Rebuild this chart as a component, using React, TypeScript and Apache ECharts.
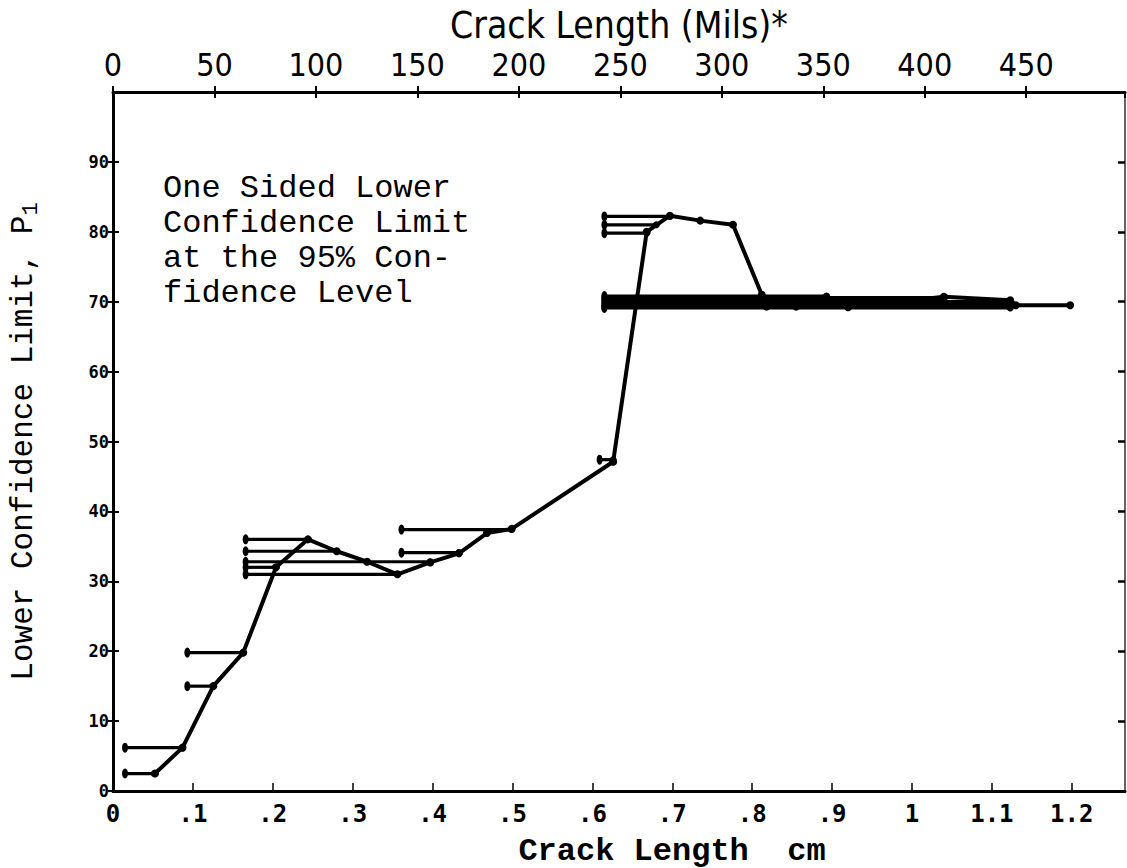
import React, { useEffect, useRef } from "react";
import * as echarts from "echarts";

// Main curve (crack length cm, lower confidence limit %)
const mainX = [0.0525, 0.087, 0.1255, 0.163, 0.204, 0.244, 0.28, 0.318, 0.356, 0.397, 0.433, 0.468, 0.499, 0.626, 0.668, 0.697, 0.735, 0.776, 0.812, 0.818, 0.855, 0.893, 0.92, 1.04, 1.123, 1.13, 1.198];
const mainY = [2.5, 6.2, 15.0, 19.8, 32.0, 36.0, 34.3, 32.8, 31.0, 32.7, 34.0, 36.9, 37.5, 47.1, 80.0, 82.3, 81.6, 81.0, 71.0, 69.3, 69.3, 70.6, 69.2, 70.7, 70.2, 69.5, 69.5];

// Horizontal interval bars
const barFrom = [0.015, 0.015, 0.093, 0.093, 0.166, 0.166, 0.166, 0.166, 0.166, 0.361, 0.361, 0.609, 0.615, 0.615, 0.615, 0.615, 0.615, 0.615, 0.615, 0.615, 0.615, 0.615, 0.615];
const barTo = [0.0525, 0.087, 0.1255, 0.163, 0.244, 0.28, 0.397, 0.204, 0.356, 0.499, 0.433, 0.626, 0.697, 0.68, 0.668, 1.123, 1.123, 1.123, 1.123, 1.04, 1.04, 0.893, 0.92];
const barY = [2.5, 6.2, 15.0, 19.8, 36.0, 34.3, 32.8, 32.0, 31.0, 37.4, 34.1, 47.4, 82.2, 81.0, 79.8, 69.1, 69.4, 69.7, 70.0, 70.3, 70.6, 70.8, 69.2];

const annotationLines = ["One Sided Lower", "Confidence Limit", "at the 95% Con-", "fidence Level"];

const CM_PER_MIL = 0.00254;
const X_MAX = 1.2666;

export default function App() {
  const ref = useRef<HTMLDivElement>(null);
  useEffect(() => {
    if (!ref.current) return;
    const chart = echarts.init(ref.current, null, { renderer: "svg" });
    const black = "#000";
    const mono = "'Liberation Mono', 'Courier New', monospace";
    const monoB = "'DejaVu Sans Mono', monospace";
    const narrow = "'Liberation Sans Narrow', 'DejaVu Sans Condensed', 'Roboto Condensed', sans-serif";

    const barSeries = barY.map((y, i) => ({
      type: "line",
      xAxisIndex: 0,
      yAxisIndex: 0,
      z: 2,
      silent: true,
      symbol: "circle",
      lineStyle: { color: black, width: 3.2 },
      itemStyle: { color: black },
      data: [
        { value: [barFrom[i], y], symbolSize: [6, 10] },
        { value: [barTo[i], y], symbolSize: 7 },
      ],
    }));

    const option: any = {
      animation: false,
      backgroundColor: "#fff",
      grid: { left: 113, right: 2, top: 92, bottom: 77, outerBoundsMode: "none" },
      xAxis: [
        {
          type: "value",
          position: "bottom",
          min: 0,
          max: X_MAX,
          interval: 0.1,
          name: "Crack Length  cm",
          nameLocation: "middle",
          nameGap: 44,
          nameTextStyle: { fontFamily: mono, fontWeight: "bold", fontSize: 32, color: black, padding: [0, 0, 0, 106] },
          axisLine: { show: true, onZero: false, lineStyle: { color: black, width: 3 } },
          axisTick: { show: true, inside: true, length: 8, lineStyle: { color: black, width: 1.5 } },
          splitLine: { show: false },
          axisLabel: {
            showMaxLabel: false,
            margin: 11,
            fontFamily: monoB,
            fontWeight: "bold",
            fontSize: 24,
            color: black,
            formatter: (v: number) => {
              const r = Math.round(v * 10) / 10;
              if (r === 0) return "0";
              if (r < 1) return "." + Math.round(r * 10);
              return String(r);
            },
          },
        },
        {
          type: "value",
          position: "top",
          min: 0,
          max: X_MAX / CM_PER_MIL,
          interval: 50,
          name: "Crack Length (Mils)*",
          nameLocation: "middle",
          nameGap: 46,
          nameTextStyle: { fontFamily: narrow, fontSize: 37, color: black },
          axisLine: { show: true, onZero: false, lineStyle: { color: black, width: 3 } },
          axisTick: { show: true, inside: false, length: 6, lineStyle: { color: black, width: 2 } },
          splitLine: { show: false },
          axisLabel: { showMaxLabel: false, margin: 11, fontFamily: narrow, fontSize: 32, color: black },
        },
        {
          type: "value",
          position: "top",
          min: 0,
          max: X_MAX / CM_PER_MIL,
          interval: 50,
          axisLine: { show: false, onZero: false },
          axisTick: { show: true, inside: true, length: 6, lineStyle: { color: black, width: 2 } },
          axisLabel: { show: false },
          splitLine: { show: false },
        },
      ],
      yAxis: [
        {
          type: "value",
          position: "left",
          min: 0,
          max: 100,
          interval: 10,
          name: "Lower Confidence Limit, P{s|1}",
          nameLocation: "middle",
          nameGap: 71,
          nameRotate: 90,
          nameTextStyle: {
            fontFamily: mono,
            fontSize: 31,
            color: black,
            rich: { s: { fontFamily: mono, fontSize: 22, color: black, padding: [16, 0, 0, 0] } },
          },
          axisLine: { show: true, onZero: false, lineStyle: { color: black, width: 3 } },
          axisTick: { show: true, inside: false, length: 5, lineStyle: { color: black, width: 2 } },
          splitLine: { show: false },
          axisLabel: { showMaxLabel: false, margin: 4, fontFamily: monoB, fontWeight: "bold", fontSize: 17, color: black },
        },
        {
          type: "value",
          position: "right",
          min: 0,
          max: 100,
          interval: 10,
          axisLine: { show: true, onZero: false, lineStyle: { color: "#333", width: 1.5 } },
          axisTick: { show: true, inside: true, length: 7, lineStyle: { color: black, width: 2.5 } },
          axisLabel: { show: false },
          splitLine: { show: false },
        },
        {
          type: "value",
          position: "left",
          min: 0,
          max: 100,
          interval: 10,
          axisLine: { show: false, onZero: false },
          axisTick: { show: true, inside: true, length: 6, lineStyle: { color: black, width: 2 } },
          axisLabel: { show: false },
          splitLine: { show: false },
        },
      ],
      graphic: [
        {
          type: "text",
          left: 163,
          top: 171,
          silent: true,
          style: {
            text: annotationLines.join("\n"),
            fontFamily: mono,
            fontSize: 32,
            lineHeight: 35,
            fill: black,
          },
        },
      ],
      series: [
        ...barSeries,
        {
          type: "line",
          xAxisIndex: 0,
          yAxisIndex: 0,
          z: 3,
          silent: true,
          symbol: "circle",
          symbolSize: 8,
          lineStyle: { color: black, width: 4 },
          itemStyle: { color: black },
          data: mainX.map((x, i) => [x, mainY[i]]),
        },
      ],
    };
    chart.setOption(option);
    return () => chart.dispose();
  }, []);
  return <div ref={ref} style={{ position: "fixed", left: 0, top: 0, width: 1127, height: 868, background: "#fff" }} />;
}
